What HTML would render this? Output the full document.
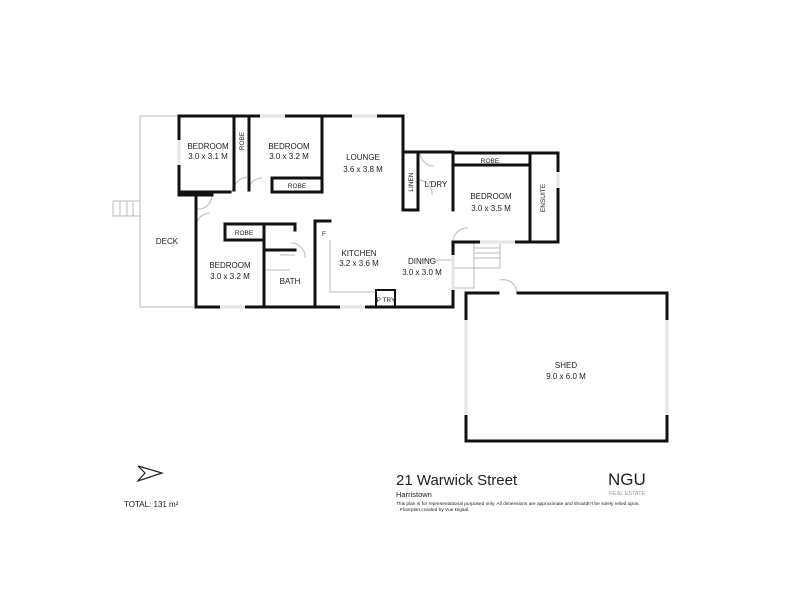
<!DOCTYPE html>
<html><head><style>
body{margin:0;background:#fff;width:800px;height:600px;overflow:hidden}
svg text{font-family:"Liberation Sans",sans-serif;fill:#222}
</style></head><body>
<svg width="800" height="600" viewBox="0 0 800 600">
<rect x="0" y="0" width="800" height="600" fill="#fff"/>
<g stroke="#bbb" stroke-width="1" fill="none">
<polyline points="179,116 140,116 140,307 196,307"/>
<rect x="113" y="201" width="27" height="15"/>
<line x1="120" y1="201" x2="120" y2="216"/><line x1="127" y1="201" x2="127" y2="216"/><line x1="133" y1="201" x2="133" y2="216"/>
<rect x="474" y="243" width="26" height="25"/>
<line x1="474" y1="248" x2="500" y2="248"/><line x1="474" y1="253" x2="500" y2="253"/><line x1="474" y1="258" x2="500" y2="258"/>
<polyline points="453,268 474,268 474,288 453,288"/>
<path d="M232,192 A18,18 0 0 1 247,177 M248,192 A14,14 0 0 1 262,178 M196,227 A14,14 0 0 1 210,213 M212,195 A14,14 0 0 1 196,209 M453,242 A14,14 0 0 1 468,228 M420,152 A14,14 0 0 0 434,166 M418,180 A14,14 0 0 1 432,195 M500,280 A14,14 0 0 1 517,293 M291,243 A14,14 0 0 1 305,258"/>
<line x1="330" y1="240" x2="330" y2="292"/><line x1="330" y1="292" x2="376" y2="292"/>
<line x1="280" y1="255" x2="295" y2="255"/><line x1="265" y1="270" x2="290" y2="270"/>
<line x1="420" y1="260" x2="453" y2="260"/>
</g>
<g stroke="#111" stroke-width="3" fill="none" stroke-linecap="square">
<polyline points="179,192 179,116 403,116 403,210"/>
<line x1="179" y1="192" x2="230" y2="192"/>
<line x1="234" y1="116" x2="234" y2="190"/>
<line x1="249" y1="116" x2="249" y2="190"/>
<line x1="322" y1="116" x2="322" y2="192"/>
<rect x="272" y="178" width="50" height="14"/>
<line x1="179" y1="195" x2="212" y2="195"/>
<polyline points="196,195 196,307 453,307 453,242 558,242 558,153 453,153 453,210"/>
<polyline points="403,152 418,152 418,210 403,210"/>
<line x1="418" y1="152" x2="453" y2="152"/>
<line x1="530" y1="153" x2="530" y2="242"/>
<line x1="453" y1="165" x2="530" y2="165"/>
<polyline points="225,240 225,224 295,224 295,230"/>
<line x1="225" y1="240" x2="264" y2="240"/>
<line x1="264" y1="224" x2="264" y2="307"/>
<line x1="264" y1="250" x2="295" y2="250"/>
<polyline points="315,307 315,221 330,221"/>
<rect x="376" y="290" width="19" height="17" stroke-width="2"/>
<polyline points="466,441 466,293 498,293"/>
<polyline points="518,293 667,293 667,441 466,441"/>
</g>
<!-- windows -->
<g stroke="#e6e6e6" stroke-width="3.2">
<line x1="260" y1="116" x2="285" y2="116"/><line x1="352" y1="116" x2="377" y2="116"/>
<line x1="179" y1="140" x2="179" y2="165"/>
<line x1="220" y1="307" x2="245" y2="307"/><line x1="340" y1="307" x2="365" y2="307"/>
<line x1="466" y1="320" x2="466" y2="415"/><line x1="667" y1="320" x2="667" y2="415"/>
<line x1="558" y1="172" x2="558" y2="188"/><line x1="453" y1="255" x2="453" y2="290"/>
<line x1="480" y1="242" x2="515" y2="242"/>
</g>
<g font-size="8" text-anchor="middle">
<text x="208" y="149">BEDROOM</text><text x="208" y="159">3.0 x 3.1 M</text>
<text x="289" y="149">BEDROOM</text><text x="289" y="159">3.0 x 3.2 M</text>
<text x="363" y="160">LOUNGE</text><text x="363" y="172">3.6 x 3.8 M</text>
<text x="436" y="187">L'DRY</text>
<text x="491" y="199">BEDROOM</text><text x="491" y="211">3.0 x 3.5 M</text>
<text x="230" y="268">BEDROOM</text><text x="230" y="279">3.0 x 3.2 M</text>
<text x="359" y="256">KITCHEN</text><text x="359" y="266">3.2 x 3.6 M</text>
<text x="422" y="264">DINING</text><text x="422" y="275">3.0 x 3.0 M</text>
<text x="290" y="284">BATH</text>
<text x="167" y="244">DECK</text>
<text x="566" y="368">SHED</text><text x="566" y="379">9.0 x 6.0 M</text>
</g>
<g font-size="6.5" text-anchor="middle">
<text x="297" y="188">ROBE</text><text x="490" y="163">ROBE</text><text x="244" y="235">ROBE</text>
<text x="386" y="302">P TRY</text><text x="324" y="236">F</text>
<text transform="translate(244,141) rotate(-90)">ROBE</text>
<text transform="translate(413,182) rotate(-90)">LINEN</text>
<text transform="translate(545,198) rotate(-90)">ENSUITE</text>
</g>
<path d="M138,466 L162,473 L138,481 L145,473 Z" fill="none" stroke="#222" stroke-width="1.2"/>
<text x="124" y="507" font-size="8">TOTAL: 131 m²</text>
<text x="396" y="485" font-size="15">21 Warwick Street</text>
<text x="396" y="497" font-size="7.5">Harristown</text>
<text x="396" y="505" font-size="4.8">This plan is for representational purposed only. All dimensions are approximate and shouldn't be solely relied upon.</text>
<text x="400" y="511" font-size="4.8">Floorplan created by Vue Digital.</text>
<text x="608" y="485" font-size="17">NGU</text>
<text x="609" y="495" font-size="5.5" style="fill:#999">REAL ESTATE</text>
</svg>
</body></html>
